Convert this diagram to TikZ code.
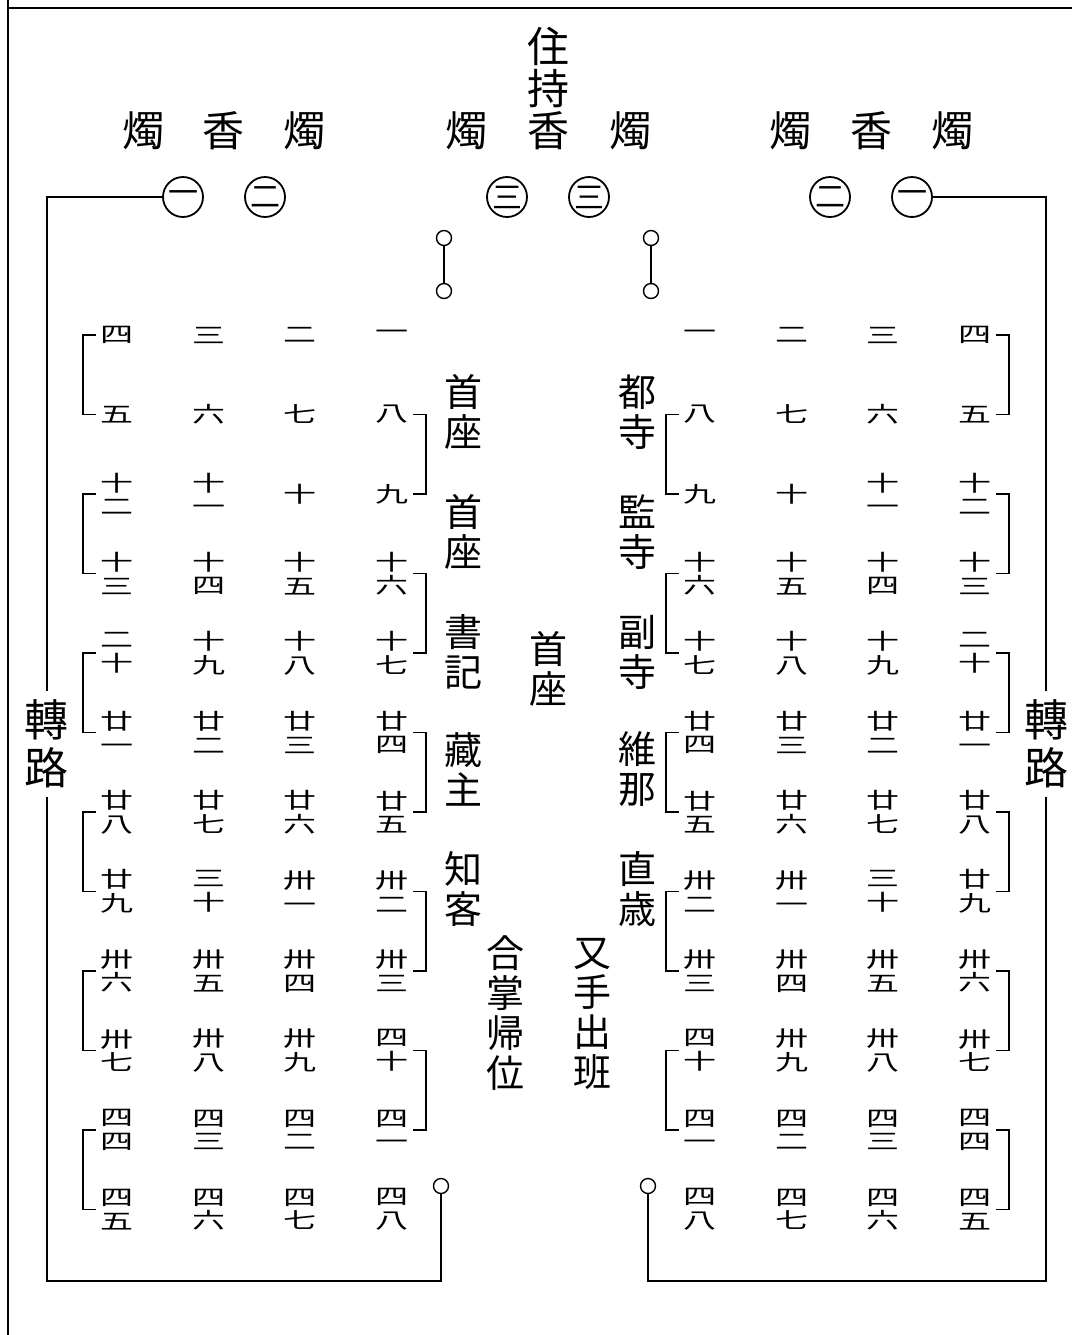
\documentclass[tikz,border=0pt]{standalone}
\usepackage{fontspec}
\usepackage{graphicx}
\newfontfamily\cjk{Noto Sans CJK JP}
\usetikzlibrary{positioning}
\tikzstyle{banner} = [font=\cjk\fontsize{21}{21}\selectfont, inner sep=0pt]
\tikzstyle{official} = [font=\cjk\fontsize{19}{20}\selectfont, align=center, inner sep=0pt]
\tikzstyle{seatno} = [font=\cjk\fontsize{16.5}{11}\selectfont, inner sep=0pt]
\tikzstyle{seat} = [circle, draw, line width=0.9pt, minimum size=20pt, inner sep=0pt, font=\cjk\fontsize{15}{15}\selectfont]
\tikzstyle{ring} = [circle, draw, line width=0.7pt, minimum size=7.5pt, inner sep=0pt]
\tikzstyle{route} = [line width=0.75pt]
\tikzstyle{brace} = [line width=0.7pt]

% numbers are set squashed, two digits stacked
\newcommand{\sq}[1]{\scalebox{1}[0.66]{#1}}
\def\nmaux#1#2\relax{\ifx\relax#2\relax\sq{#1}\else\vbox{\baselineskip=11.8pt\lineskiplimit=-20pt\hbox{\sq{#1}}\hbox{\sq{#2}}}\fi}
\newcommand{\nm}[1]{\edef\nmtmp{#1}\expandafter\nmaux\nmtmp\relax}

\begin{document}
\begin{tikzpicture}[x=0.5pt, y=-0.5pt]
    \useasboundingbox (0,0) rectangle (1072,1335);
    \draw[line width=1pt] (8,0) -- (8,1335);
    \draw[line width=1pt] (8,8) -- (1072,8);

    % abbot, altars and seats
    \node[banner, align=center] (zhuchi) at (548,67) {住\\持};
    \foreach \n/\x/\t in {zhuL1/143/燭, xiangL/223/香, zhuL2/304/燭, zhuM1/466/燭, xiangM/548/香, zhuM2/630/燭, zhuR1/790/燭, xiangR/871/香, zhuR2/952/燭}
        \node[banner] (\n) at (\x,131) {\t};
    \foreach \n/\x/\t in {seatL1/183/一, seatL2/265/二, seatM1/507/三, seatM2/589/三, seatR2/830/二, seatR1/912/一}
        \node[seat] (\n) at (\x,197) {\t};

    \node[ring] (bellL1) at (444,238) {};
    \node[ring] (bellL2) at (444,291) {};
    \node[ring] (bellR1) at (651,238) {};
    \node[ring] (bellR2) at (651,291) {};
    \draw[route] (bellL1) -- (bellL2);
    \draw[route] (bellR1) -- (bellR2);

    % officials
    \node[official] (shouzuoA) at (463,412) {首\\座};
    \node[official] (shouzuoB) at (463,532) {首\\座};
    \node[official] (shuji) at (463,652) {書\\記};
    \node[official] (zangzhu) at (463,769) {藏\\主};
    \node[official] (zhike) at (463,889) {知\\客};
    \node[official] (dusi) at (637,412) {都\\寺};
    \node[official] (jiansi) at (637,532) {監\\寺};
    \node[official] (fusi) at (637,652) {副\\寺};
    \node[official] (weina) at (637,769) {維\\那};
    \node[official] (zhisui) at (637,889) {直\\歳};
    \node[official] (shouzuoC) at (548,669) {首\\座};
    \node[official] (hezhang) at (505,1013) {合\\掌\\帰\\位};
    \node[official] (chashou) at (592,1014) {又\\手\\出\\班};

    % seat numbers, left side and its mirror
    \foreach \r/\a/\b/\c/\d in {1/四/三/二/一, 2/五/六/七/八, 3/十二/十一/十/九, 4/十三/十四/十五/十六, 5/二十/十九/十八/十七, 6/廿一/廿二/廿三/廿四, 7/廿八/廿七/廿六/廿五, 8/廿九/三十/卅一/卅二, 9/卅六/卅五/卅四/卅三, 10/卅七/卅八/卅九/四十, 11/四四/四三/四二/四一, 12/四五/四六/四七/四八} {
        \foreach \col/\t in {1/\a, 2/\b, 3/\c, 4/\d} {
            \node[seatno] (L-\r-\col) at ({117+91.67*(\col-1)}, {335+79.5*(\r-1)}) {\nm{\t}};
            \node[seatno] (R-\r-\col) at ({975-91.67*(\col-1)}, {335+79.5*(\r-1)}) {\nm{\t}};
        }
    }

    \foreach \i/\j in {1/2, 3/4, 5/6, 7/8, 9/10, 11/12} {
        \draw[brace] ([xshift=-2pt]L-\i-1.west) -- ++(-13,0) |- ([xshift=-2pt]L-\j-1.west);
        \draw[brace] ([xshift=2pt]R-\i-1.east) -- ++(13,0) |- ([xshift=2pt]R-\j-1.east);
    }
    \foreach \i/\j in {2/3, 4/5, 6/7, 8/9, 10/11} {
        \draw[brace] ([xshift=2pt]L-\i-4.east) -- ++(13,0) |- ([xshift=2pt]L-\j-4.east);
        \draw[brace] ([xshift=-2pt]R-\i-4.west) -- ++(-13,0) |- ([xshift=-2pt]R-\j-4.west);
    }

    % turning route
    \node[banner, align=center, font=\cjk\fontsize{22}{24}\selectfont, inner sep=4pt] (zhuanL) at (47,744) {轉\\路};
    \node[banner, align=center, font=\cjk\fontsize{22}{24}\selectfont, inner sep=4pt] (zhuanR) at (1046,744) {轉\\路};
    \coordinate (cornerLB) at (47,1281);
    \coordinate (cornerRB) at (1046,1281);
    \node[ring] (bellLB) at (441,1186) {};
    \node[ring] (bellRB) at (648,1186) {};
    \draw[route] (seatL1.west) -| (zhuanL.north);
    \draw[route] (zhuanL.south) |- (cornerLB) -| (bellLB.south);
    \draw[route] (seatR1.east) -| (zhuanR.north);
    \draw[route] (zhuanR.south) |- (cornerRB) -| (bellRB.south);
\end{tikzpicture}
\end{document}
